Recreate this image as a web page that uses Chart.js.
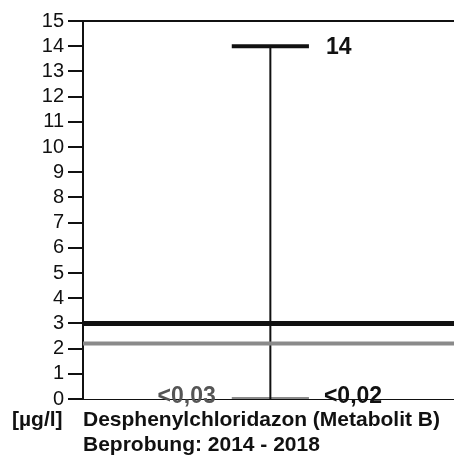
<!DOCTYPE html>
<html>
<head>
<meta charset="utf-8">
<script src="https://cdn.jsdelivr.net/npm/chart.js@4/dist/chart.umd.min.js"></script>
<style>
  html, body { margin: 0; padding: 0; background: #fff; }
  #wrap { position: relative; width: 454px; height: 458px; }
</style>
</head>
<body>
<div id="wrap"><canvas id="chart" width="454" height="458"></canvas></div>
<script>
// values
var unitLabel = '[µg/l]';
var parameterName = 'Desphenylchloridazon (Metabolit B)';
var periodLabel = 'Beprobung: 2014 - 2018';
var maxValue = 14;
var minValue = 0;
var maxLabel = '14';
var minLabels = ['<0,03', '<0,02'];
var thresholdValues = [3, 2.2];
var thresholdColors = ['#111', '#8a8a8a'];
var yMin = 0, yMax = 15;

var center = 0.505;   // position of the range bar on the x scale
var capHalf = 0.104;

var datasets = [];
thresholdValues.forEach(function (v, i) {
  datasets.push({
    data: [{ x: 0, y: v }, { x: 1, y: v }],
    borderColor: thresholdColors[i],
    borderWidth: i === 0 ? 5 : 4
  });
});
// vertical range line
datasets.push({ data: [{ x: center, y: minValue }, { x: center, y: maxValue }], borderColor: '#111', borderWidth: 2 });
// max cap
datasets.push({ data: [{ x: center - capHalf, y: maxValue }, { x: center + capHalf, y: maxValue }], borderColor: '#111', borderWidth: 4 });
// min cap (grey)
datasets.push({ data: [{ x: center - capHalf, y: minValue }, { x: center + capHalf, y: minValue }], borderColor: '#8a8a8a', borderWidth: 4 });

datasets.forEach(function (d) {
  d.pointRadius = 0;
  d.borderCapStyle = 'butt';
  d.fill = false;
  d.tension = 0;
});

var textPlugin = {
  id: 'texts',
  afterDraw: function (chart) {
    var ctx = chart.ctx;
    var xs = chart.scales.x, ys = chart.scales.y;
    ctx.save();
    ctx.textBaseline = 'middle';
    ctx.font = 'bold 23px "Liberation Sans", Arial, sans-serif';
    ctx.fillStyle = '#111';
    ctx.textAlign = 'left';
    ctx.fillText(maxLabel, xs.getPixelForValue(center + capHalf) + 17, ys.getPixelForValue(maxValue) + 1);
    ctx.fillText(minLabels[1], xs.getPixelForValue(center + capHalf) + 15, ys.getPixelForValue(minValue) - 2);
    ctx.fillStyle = '#555';
    ctx.textAlign = 'right';
    ctx.fillText(minLabels[0], xs.getPixelForValue(center - capHalf) - 16, ys.getPixelForValue(minValue) - 2);

    ctx.fillStyle = '#111';
    ctx.textAlign = 'left';
    ctx.font = 'bold 21px "Liberation Sans", Arial, sans-serif';
    ctx.fillText(unitLabel, 12, 420);
    ctx.fillText(parameterName, chart.chartArea.left, 420);
    ctx.fillText(periodLabel, chart.chartArea.left, 445);
    ctx.restore();
  }
};

new Chart(document.getElementById('chart').getContext('2d'), {
  type: 'line',
  data: { datasets: datasets },
  options: {
    responsive: false,
    animation: false,
    layout: { padding: { top: 21, right: 0, left: 0, bottom: 0 } },
    plugins: { legend: { display: false }, tooltip: { enabled: false } },
    scales: {
      x: {
        type: 'linear',
        min: 0,
        max: 1,
        ticks: { display: false },
        grid: { display: false },
        border: { display: true, color: '#111', width: 1 },
        afterFit: function (s) { s.height = 59; }
      },
      y: {
        min: yMin,
        max: yMax,
        ticks: {
          stepSize: 1,
          autoSkip: false,
          color: '#111',
          padding: 4,
          font: { size: 20, family: '"Liberation Sans", Arial, sans-serif' }
        },
        grid: {
          drawOnChartArea: true,
          tickLength: 15,
          tickWidth: 2,
          tickColor: '#111',
          lineWidth: 2,
          color: function (c) { return c.tick && c.tick.value === yMax ? '#111' : 'rgba(0,0,0,0)'; }
        },
        border: { display: true, color: '#111', width: 2 },
        afterFit: function (s) { s.width = 83; }
      }
    }
  },
  plugins: [textPlugin]
});
</script>
</body>
</html>
